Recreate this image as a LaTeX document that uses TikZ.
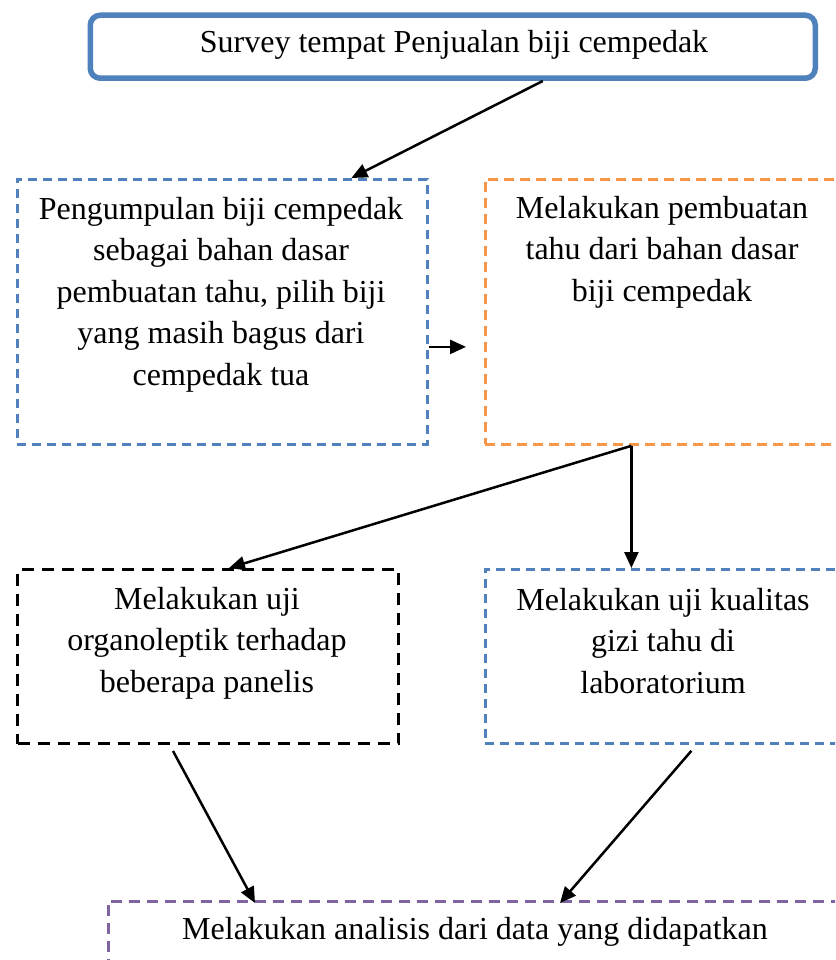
\documentclass[tikz,border=0pt]{standalone}
\usepackage{fontspec}
\setmainfont{Liberation Serif}
\usetikzlibrary{arrows.meta,calc}
\definecolor{wblue}{HTML}{4F81BD}
\definecolor{worange}{HTML}{F79646}
\definecolor{wpurple}{HTML}{8064A2}
\tikzset{
  dbox/.style={draw, line width=2.8pt, dash pattern=on 9pt off 6pt, minimum width=#1, inner sep=0pt, anchor=north west},
  txt/.style={align=center, font=\fontsize{32}{41.5}\selectfont, inner sep=0pt, anchor=north},
  arr/.style={line width=2.5pt, -{Triangle[length=16pt,width=14pt]}},
}
\begin{document}
\begin{tikzpicture}[x=1pt,y=-1pt]
\clip (0,0) rectangle (835,960);
\fill[white] (0,0) rectangle (835,960);
% top
\node[draw=wblue, line width=5.5pt, rounded corners=10pt, minimum width=725pt, minimum height=63pt, anchor=north west, inner sep=0pt] (top) at (87.5,12.5) {};
\node[txt, anchor=center] (toptxt) at (454,45) {Survey tempat Penjualan biji cempedak};
% row 1
\node[dbox=410pt, draw=wblue, minimum height=265pt] (b1) at (16,178) {};
\node[txt] (t1) at (221,197) {Pengumpulan biji cempedak\\sebagai bahan dasar\\pembuatan tahu, pilih biji\\yang masih bagus dari\\cempedak tua};
\node[dbox=354pt, draw=worange, minimum height=265pt, dash pattern=on 10pt off 6pt] (b2) at (484,178) {};
\node[txt] (t2) at (662,196) {Melakukan pembuatan\\tahu dari bahan dasar\\biji cempedak};
% row 2
\node[dbox=381pt, draw=black, minimum height=174pt, dash pattern=on 12pt off 8pt, line width=3pt] (b3) at (16,568) {};
\node[txt] (t3) at (207,587) {Melakukan uji\\organoleptik terhadap\\beberapa panelis};
\node[dbox=358pt, draw=wblue, minimum height=174pt] (b4) at (484,568) {};
\node[txt] (t4) at (663,588) {Melakukan uji kualitas\\gizi tahu di\\laboratorium};
% bottom
\node[dbox=736pt, draw=wpurple, minimum height=90pt, dash pattern=on 11pt off 7pt] (b5) at (107,900) {};
\node[txt, anchor=center] (t5) at (475,932) {Melakukan analisis dari data yang didapatkan};
% arrows
\draw[arr] ([xshift=90pt]top.south) -- ([xshift=129pt]b1.north);
\draw[arr] ([yshift=-35pt]b1.east) -- ([yshift=-35pt,xshift=-18pt]b2.west);
\coordinate (s2) at ([xshift=-31pt]b2.south);
\draw[arr] (s2) -- ([xshift=21pt]b3.north);
\draw[arr] (s2) -- (s2 |- b4.north);
\draw[arr] ([xshift=-35pt,yshift=-6pt]b3.south) -- ([xshift=148pt,yshift=-3pt]b5.north west);
\draw[arr] ([xshift=27pt,yshift=-6pt]b4.south) -- ([xshift=453pt,yshift=-3pt]b5.north west);
\end{tikzpicture}
\end{document}
